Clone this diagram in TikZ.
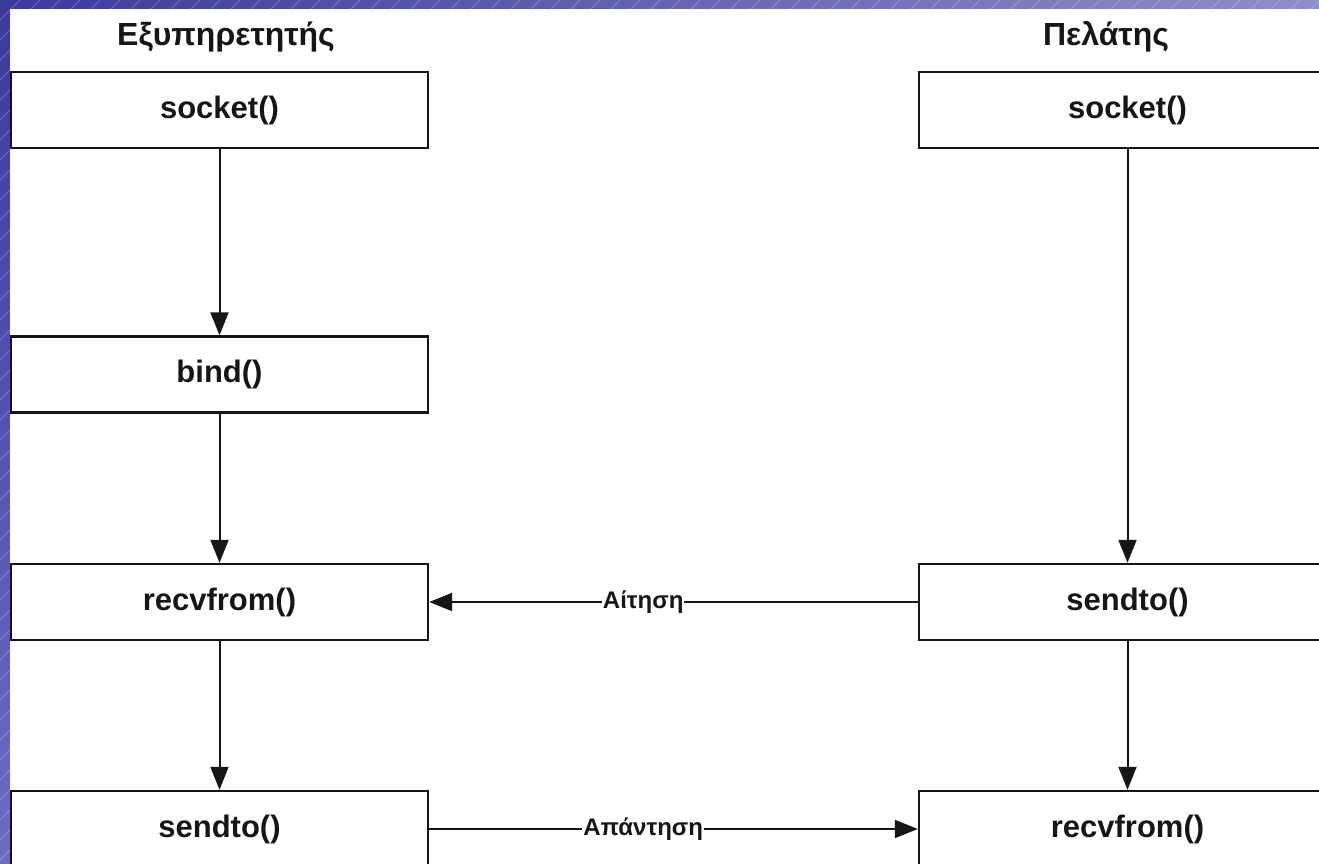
\documentclass[tikz,border=0pt]{standalone}
\usepackage{fontspec}
\setmainfont{Liberation Sans}
\usetikzlibrary{arrows.meta,shadings}
\definecolor{bgdark}{HTML}{3A3A9C}
\definecolor{bgtr}{HTML}{8E8ECB}
\definecolor{bgbl}{HTML}{6C6CC2}
\definecolor{bgbr}{HTML}{B0B0E0}
\definecolor{ink}{HTML}{161616}
\begin{document}
\begin{tikzpicture}[x=1pt,y=-1pt,
  box/.style={draw=ink, line width=2.4pt, minimum width=417pt, minimum height=76pt,
    inner sep=0pt, fill=white, text=ink, font=\fontsize{31}{36}\selectfont\bfseries},
  head/.style={inner sep=0pt, text=ink, font=\fontsize{32}{36}\selectfont\bfseries},
  conn/.style={draw=ink, line width=2pt, -{Triangle[length=23pt,width=18pt]}},
  lbl/.style={fill=white, inner sep=1pt, text=ink, font=\fontsize{24}{28}\selectfont\bfseries}
]
\useasboundingbox (0,0) rectangle (1319,864);
% background frame
\shade[upper left=bgdark, upper right=bgtr, lower left=bgbl, lower right=bgbr]
  (0,0) rectangle (1319,864);
\begin{scope}
  \clip (0,0) rectangle (1319,864);
  \foreach \x in {0,20,...,2200}
    \draw[white, opacity=0.22, line width=0.8pt] (\x,0) -- (\x-880,880);
\end{scope}
\fill[white] (10,9) rectangle (1319,864);

% headings
\node[head] (hs) at (226,37) {Εξυπηρετητής};
\node[head] (hc) at (1106,37) {Πελάτης};

% server column
\node[box] (ssock) at (219.5,110) {socket()};
\node[box] (sbind) at (219.5,374.5) {bind()};
\node[box] (srecv) at (219.5,602) {recvfrom()};
\node[box] (ssend) at (219.5,829) {sendto()};

% client column
\node[box] (csock) at (1127.5,110) {socket()};
\node[box] (csend) at (1127.5,602) {sendto()};
\node[box] (crecv) at (1127.5,829) {recvfrom()};

% vertical flows
\draw[conn] (ssock) -- (sbind);
\draw[conn] (sbind) -- (srecv);
\draw[conn] (srecv) -- (ssend);
\draw[conn] (csock) -- (csend);
\draw[conn] (csend) -- (crecv);

% messages
\draw[conn] (csend.west) -- node[lbl, pos=0.562] {Αίτηση} (srecv.east);
\draw[conn] (ssend.east) -- node[lbl, pos=0.438] {Απάντηση} (crecv.west);
\end{tikzpicture}
\end{document}
